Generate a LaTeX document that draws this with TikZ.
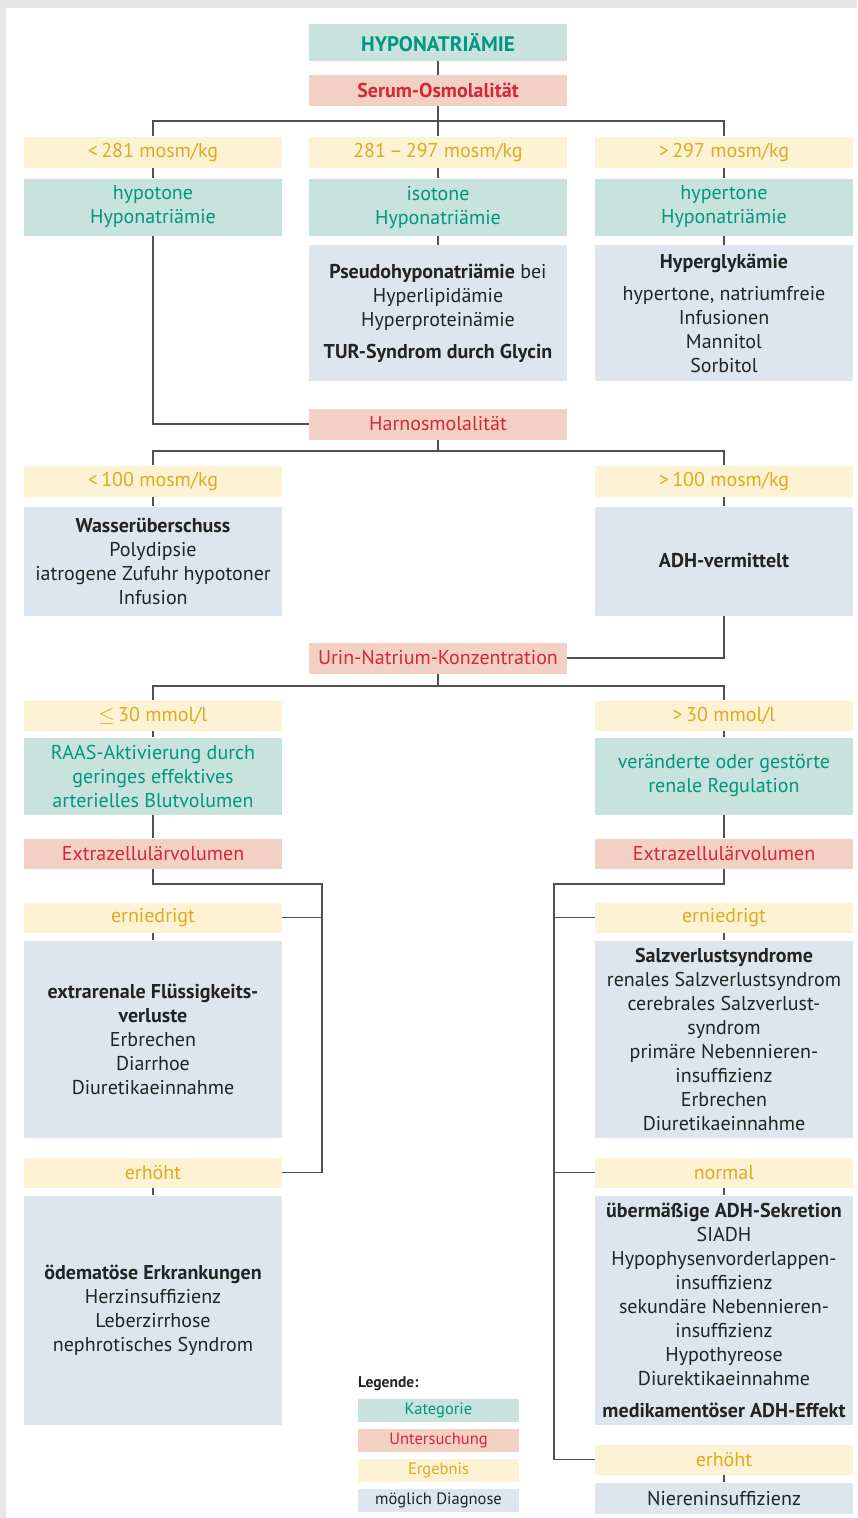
\documentclass[tikz,border=0pt]{standalone}
\usepackage{fontspec}
\setmainfont{PT Sans}
\definecolor{katfill}{RGB}{200,226,221}
\definecolor{kattext}{RGB}{0,150,128}
\definecolor{untfill}{RGB}{243,208,196}
\definecolor{unttext}{RGB}{214,38,56}
\definecolor{ergfill}{RGB}{253,242,212}
\definecolor{ergtext}{RGB}{222,170,30}
\definecolor{diagfill}{RGB}{221,230,239}
\definecolor{diagtext}{RGB}{35,35,35}
\definecolor{linie}{RGB}{80,80,80}
\definecolor{rand}{RGB}{230,231,233}
\begin{document}
\begin{tikzpicture}[x=1pt,y=-1pt,
    box/.style={minimum width=258pt,inner sep=0pt,align=center,font=\fontsize{20}{24}\selectfont},
    kat/.style={box,fill=katfill,text=kattext},
    unt/.style={box,fill=untfill,text=unttext,minimum height=31pt},
    erg/.style={box,fill=ergfill,text=ergtext,minimum height=31pt},
    diag/.style={box,fill=diagfill,text=diagtext},
    leg/.style={minimum width=161pt,minimum height=23pt,inner sep=0pt,font=\fontsize{16.5}{18}\selectfont},
    verb/.style={draw=linie,line width=1.3pt}]
  % Rahmen
  \fill[rand] (0,0) rectangle (857,1518);
  \fill[white] (6,8) rectangle (857,1518);

  % Serum-Osmolalitaet
  \node[kat,minimum height=37pt,font=\fontsize{21}{24}\selectfont] (top) at (438,42.5) {\textbf{HYPONATRIÄMIE}};
  \node[unt] (serum) at (438,90.5) {\textbf{Serum-Osmolalität}};
  \node[erg] (r1L) at (153,152) {<\,281 mosm/kg};
  \node[erg] (r1M) at (438,152) {281\,–\,297 mosm/kg};
  \node[erg] (r1R) at (724,152) {>\,297 mosm/kg};
  \node[kat,minimum height=57pt] (k1L) at (153,207) {hypotone\\Hyponatriämie};
  \node[kat,minimum height=57pt] (k1M) at (438,207) {isotone\\Hyponatriämie};
  \node[kat,minimum height=57pt] (k1R) at (724,207) {hypertone\\Hyponatriämie};
  \node[diag,minimum height=136pt] (d1M) at (438,313)
    {\textbf{Pseudohyponatriämie} bei\\Hyperlipidämie\\Hyperproteinämie\\[8pt]\textbf{TUR-Syndrom durch Glycin}};
  \node[diag,minimum height=136pt] (d1R) at (724,313)
    {\textbf{Hyperglykämie}\\[8pt]hypertone, natriumfreie\\Infusionen\\Mannitol\\Sorbitol};

  % Harnosmolalitaet
  \node[unt] (harn) at (438,424) {Harnosmolalität};
  \node[erg] (r2L) at (153,481) {<\,100 mosm/kg};
  \node[erg] (r2R) at (724,481) {>\,100 mosm/kg};
  \node[diag,minimum height=109pt] (d2L) at (153,561)
    {\textbf{Wasserüberschuss}\\Polydipsie\\iatrogene Zufuhr hypotoner\\Infusion};
  \node[diag,minimum height=109pt] (d2R) at (724,561) {\textbf{ADH-vermittelt}};

  % Urin-Natrium
  \node[unt] (urin) at (438,658) {Urin-Natrium-Konzentration};
  \node[erg,minimum height=30pt] (r3L) at (153,715.5) {$\leq$\,30 mmol/l};
  \node[erg,minimum height=30pt] (r3R) at (724,715.5) {>\,30 mmol/l};
  \node[kat,minimum height=77pt] (k3L) at (153,776)
    {RAAS-Aktivierung durch\\geringes effektives\\arterielles Blutvolumen};
  \node[kat,minimum height=77pt] (k3R) at (724,776)
    {veränderte oder gestörte\\renale Regulation};
  \node[unt,minimum height=30pt] (ezvL) at (153,853.5) {Extrazellulärvolumen};
  \node[unt,minimum height=30pt] (ezvR) at (724,853.5) {Extrazellulärvolumen};

  % links
  \node[erg,minimum height=30pt] (r4L) at (153,917.5) {erniedrigt};
  \node[diag,minimum height=197pt] (d4L) at (153,1039)
    {\textbf{extrarenale Flüssigkeits-}\\\textbf{verluste}\\Erbrechen\\Diarrhoe\\Diuretikaeinnahme};
  \node[erg,minimum height=30pt] (r5L) at (153,1172.5) {erhöht};
  \node[diag,minimum height=229pt] (d5L) at (153,1310)
    {\textbf{ödematöse Erkrankungen}\\Herzinsuffizienz\\Leberzirrhose\\nephrotisches Syndrom};

  % rechts
  \node[erg,minimum height=30pt] (r4R) at (724,917.5) {erniedrigt};
  \node[diag,minimum height=197pt] (d4R) at (724,1039)
    {\textbf{Salzverlustsyndrome}\\renales Salzverlustsyndrom\\cerebrales Salzverlust-\\syndrom\\primäre Nebennieren-\\insuffizienz\\Erbrechen\\Diuretikaeinnahme};
  \node[erg,minimum height=30pt] (r5R) at (724,1172.5) {normal};
  \node[diag,minimum height=229pt] (d5R) at (724,1310)
    {\textbf{übermäßige ADH-Sekretion}\\SIADH\\Hypophysenvorderlappen-\\insuffizienz\\sekundäre Nebennieren-\\insuffizienz\\Hypothyreose\\Diurektikaeinnahme\\[8pt]\textbf{medikamentöser ADH-Effekt}};
  \node[erg,minimum height=30pt] (r6R) at (724,1459.5) {erhöht};
  \node[diag,minimum height=31pt] (d6R) at (724,1498) {Niereninsuffizienz};

  % Legende
  \node[anchor=west,inner sep=0pt,font=\fontsize{15.5}{18}\selectfont\bfseries,text=diagtext] (legtitel) at (358,1384) {Legende:};
  \node[leg,fill=katfill,text=kattext] (legkat) at (438.5,1410) {Kategorie};
  \node[leg,fill=untfill,text=unttext] (legunt) at (438.5,1440.5) {Untersuchung};
  \node[leg,fill=ergfill,text=ergtext] (legerg) at (438.5,1470.5) {Ergebnis};
  \node[leg,fill=diagfill,text=diagtext] (legdiag) at (438.5,1500.5) {möglich Diagnose};

  % Verbindungen
  \coordinate (bus1) at (438,121);
  \coordinate (bus2) at (438,451);
  \coordinate (bus3) at (438,686);
  \coordinate (jL) at (322,884);
  \coordinate (jR) at (554,884);

  \draw[verb] (top) -- (serum);
  \draw[verb] (serum) -- (bus1) -- (r1M);
  \draw[verb] (r1L.north) |- (bus1) -| (r1R.north);
  \draw[verb] (r1L) -- (k1L);
  \draw[verb] (r1M) -- (k1M);
  \draw[verb] (r1R) -- (k1R);
  \draw[verb] (k1M) -- (d1M);
  \draw[verb] (k1R) -- (d1R);
  \draw[verb] (k1L.south) |- (harn.west);

  \draw[verb] (harn) -- (bus2);
  \draw[verb] (r2L.north) |- (bus2) -| (r2R.north);
  \draw[verb] (r2L) -- (d2L);
  \draw[verb] (r2R) -- (d2R);
  \draw[verb] (d2R.south) |- (urin.east);

  \draw[verb] (urin) -- (bus3);
  \draw[verb] (r3L.north) |- (bus3) -| (r3R.north);
  \draw[verb] (r3L) -- (k3L);
  \draw[verb] (r3R) -- (k3R);
  \draw[verb] (k3L) -- (ezvL);
  \draw[verb] (k3R) -- (ezvR);

  \draw[verb] (ezvL.south) |- (jL) |- (r5L.east);
  \draw[verb] (r4L.east) -- (r4L.east -| jL);
  \draw[verb] (r4L) -- (d4L);
  \draw[verb] (r5L) -- (d5L);

  \draw[verb] (ezvR.south) |- (jR) |- (r6R.west);
  \draw[verb] (r4R.west) -- (r4R.west -| jR);
  \draw[verb] (r5R.west) -- (r5R.west -| jR);
  \draw[verb] (r4R) -- (d4R);
  \draw[verb] (r5R) -- (d5R);
  \draw[verb] (r6R) -- (d6R);
\end{tikzpicture}
\end{document}
